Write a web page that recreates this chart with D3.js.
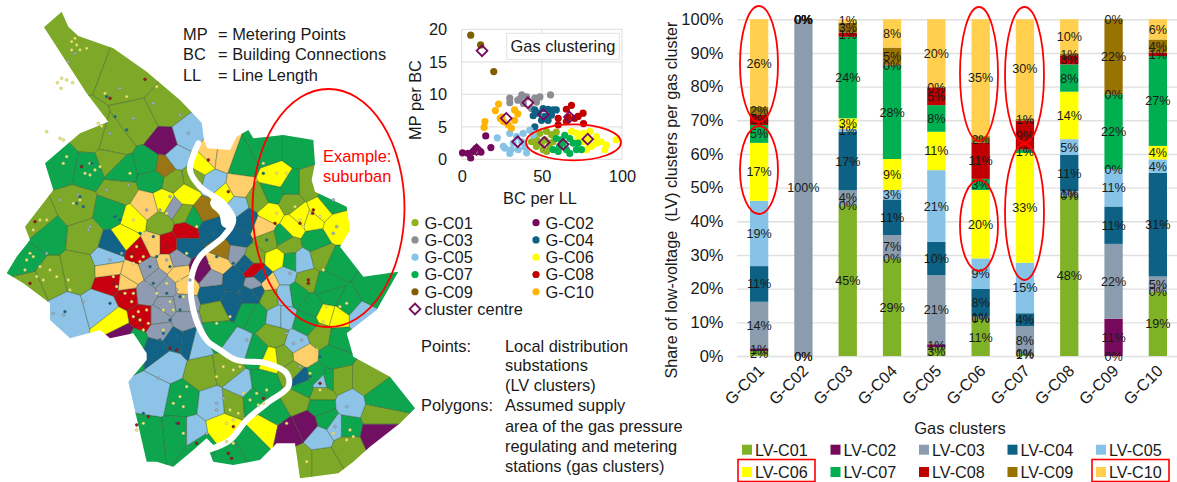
<!DOCTYPE html>
<html>
<head>
<meta charset="utf-8">
<script src="https://cdnjs.cloudflare.com/ajax/libs/d3/7.8.5/d3.min.js"></script>
<style>
  html, body { margin: 0; background: #fff; }
  svg { display: block; }
  text { font-family: "Liberation Sans", Arial, sans-serif; fill: #1a1a1a; }
</style>
</head>
<body>
<div id="chart"></div>
<script>
// ---- stacked bars: share of LV clusters per gas cluster
const gasClusters = ["G-C01", "G-C02", "G-C03", "G-C04", "G-C05", "G-C06", "G-C07", "G-C08", "G-C09", "G-C10"];
const lvClusters = ["LV-C01", "LV-C02", "LV-C03", "LV-C04", "LV-C05", "LV-C06", "LV-C07", "LV-C08", "LV-C09", "LV-C10"];
const lvC01 = [1.5, 0, 44.8, 28.9, 2.6, 11.0, 0.6, 47.6, 0, 19.1];
const lvC02 = [0.8, 0, 0, 0, 0.9, 0, 0, 0, 11.1, 0];
const lvC03 = [13.8, 100, 4.4, 7.0, 20.5, 0.7, 8.3, 1.4, 22.2, 4.5];
const lvC04 = [10.6, 0, 17.4, 10.6, 9.9, 8.2, 3.8, 10.7, 11.1, 30.8];
const lvC05 = [19.4, 0, 0.8, 2.8, 21.3, 9.1, 15.0, 4.7, 11.1, 4.0];
const lvC06 = [17.2, 0, 3.2, 9.2, 11.4, 20.3, 32.6, 14.1, 0, 4.0];
const lvC07 = [5.3, 0, 24.2, 27.8, 7.9, 3.3, 1.0, 8.1, 22.2, 26.7];
const lvC08 = [3.0, 0, 1.2, 0.2, 5.3, 10.8, 8.6, 2.7, 0, 1.0];
const lvC09 = [2.4, 0, 3.0, 5.1, 0, 1.9, 0.6, 0.6, 22.3, 3.9];
const lvC10 = [26.0, 0, 1.0, 8.4, 20.2, 34.7, 29.5, 10.1, 0, 6.0];
const lvSeries = [lvC01, lvC02, lvC03, lvC04, lvC05, lvC06, lvC07, lvC08, lvC09, lvC10];
const lvColors = ["#7fb226", "#76095c", "#8a9cad", "#0c6185", "#87c3e6", "#ffff00", "#00b050", "#c00000", "#997300", "#ffcf4d"];

// ---- scatter: [BC per LL, MP per BC]
const scatterNames = ["G-C01", "G-C02", "G-C03", "G-C04", "G-C05", "G-C06", "G-C07", "G-C08", "G-C09", "G-C10"];
const scatterColors = ["#8fb21e", "#76095c", "#8c8c94", "#0c6185", "#87c3e6", "#ffff00", "#00b050", "#c00000", "#7f6000", "#ffb400"];
const gC01 = [[45.6, 3.2], [48.7, 4], [52.9, 4.3], [56, 3.8], [46.6, 2], [50.8, 1.5], [55, 1.7], [57, 2.7], [43.5, 2.7], [51.9, 3], [59, 4.2], [49.8, 2.5], [54.9, 2.5], [47, 2.9], [53, 1.2]];
const gC02 = [[0.5, 1], [4, 0.9], [5.6, 0.2], [9, 1.7], [12, 1.1], [15, 3.6], [18.2, 1.8], [7.2, 1.2]];
const gC03 = [[30, 9.4], [30, 8.7], [35, 9.1], [37.5, 9.9], [40.5, 9.6], [45.6, 9.4], [48.8, 9.6], [55.4, 9.9], [38.5, 8.6], [43.6, 7.8], [46.7, 8.8], [36.3, 9.3]];
const gC04 = [[45.6, 7.6], [44.6, 6.7], [47.7, 7.1], [50.8, 7.8], [53.9, 7.7], [57, 7.6], [59, 7.6], [51.9, 6.6], [56, 6.8], [49.8, 6], [45.6, 5], [53.9, 6]];
const gC05 = [[22.2, 3.3], [27, 1.7], [30, 0.9], [30, 4], [34.3, 3.5], [38.4, 4], [42.5, 4.5], [39.4, 1.9], [40.5, 1], [32.2, 2.5], [35.3, 1.5], [37.4, 2.7], [44.6, 3.7], [26, 2], [31, 1.5]];
const gC06 = [[68.5, 4.3], [71.6, 4], [75.7, 4], [79.9, 4.3], [84, 3.5], [87, 2.7], [90.3, 2.2], [89.2, 1.5], [77.8, 1.5], [79.9, 2.2], [81, 2], [96.4, 3], [72.6, 3.2], [75.7, 2.7], [84, 2.5], [78.8, 3.2]];
const gC07 = [[59, 3.2], [61, 1.9], [64.3, 3.7], [67.4, 3.2], [69.5, 2.5], [71.6, 1.5], [74.7, 1.5], [65.3, 1.5], [60.2, 1.2], [57, 1.5], [63.3, 2.5], [72.6, 2.5], [67.4, 0.9], [62.2, 3]];
const gC08 = [[65.3, 7.7], [68.5, 8.3], [60.2, 6.3], [66.4, 6.5], [72.6, 6.6], [75.7, 7.1], [60.2, 5.3], [76, 5.5], [65.3, 5.8], [70.5, 6.3]];
const gC09 = [[5.6, 19.1], [11.8, 17.6], [20, 13.5]];
const gC10 = [[23, 8.5], [21, 7.5], [14.5, 5.8], [14, 4.9], [24, 6.3], [26, 5.8], [31, 4.8], [33, 7.6], [35, 7], [33, 6], [29, 5.3], [25, 6.5]];
const scatterSeries = [gC01, gC02, gC03, gC04, gC05, gC06, gC07, gC08, gC09, gC10];
const clusterCentres = [[12.7, 16.7], [9.3, 1.5], [27.8, 6.3], [34.9, 2.7], [41.3, 8.7], [51, 6.9], [51.5, 2.6], [63.3, 2.3], [67.2, 6.5], [78.6, 3.1]];

// ---- map, in map units (1 unit = 1/3 px)
const mapOutline = [[132, 82], [185, 35], [205, 80], [235, 108], [340, 145], [440, 215], [540, 300], [605, 368], [612, 420], [622, 445], [690, 450], [710, 410], [745, 390], [760, 415], [850, 405], [940, 420], [945, 490], [935, 540], [945, 575], [1040, 620], [1050, 690], [1020, 740], [1090, 830], [1195, 815], [1130, 930], [1040, 1000], [1060, 1070], [1170, 1130], [1245, 1225], [1200, 1270], [1110, 1340], [1060, 1385], [1015, 1420], [900, 1435], [885, 1330], [830, 1330], [780, 1380], [700, 1395], [640, 1385], [628, 1355], [640, 1335], [620, 1315], [580, 1350], [520, 1400], [470, 1385], [440, 1385], [385, 1145], [440, 1080], [440, 1060], [400, 1000], [330, 1015], [300, 990], [210, 1015], [150, 960], [150, 910], [70, 850], [20, 820], [50, 770], [90, 720], [75, 680], [160, 570], [135, 490], [240, 400], [325, 365], [260, 280]];
const riverLine = [[595, 430], [570, 510], [600, 560], [670, 610], [700, 660], [670, 710], [600, 770], [575, 830], [580, 930], [620, 1020], [660, 1050], [710, 1080], [800, 1090], [860, 1120], [865, 1160], [800, 1210], [740, 1260], [690, 1320], [625, 1350]];
const riverBulge = [[650, 610], [675, 635], [682, 665]];
const seedsOlive = [[230, 170], [390, 230], [500, 330], [270, 410], [340, 430], [330, 480], [420, 370], [230, 620], [360, 570], [260, 710], [115, 670], [240, 810], [140, 830], [95, 850], [580, 535], [520, 545], [550, 640], [480, 670], [650, 930], [825, 1010], [850, 1070], [960, 1005], [610, 1120], [680, 1110], [700, 1205], [1100, 1140], [880, 1115], [1015, 1140], [965, 1180], [1130, 1245], [970, 1380], [900, 1380], [1040, 1340], [890, 1200], [805, 720], [865, 735], [965, 770], [920, 840], [810, 890], [925, 560], [775, 600], [870, 605], [760, 775]];
const seedsGreen = [[190, 490], [265, 505], [450, 495], [365, 515], [140, 700], [335, 640], [80, 785], [400, 1025], [395, 1050], [725, 490], [800, 450], [890, 450], [870, 560], [820, 580], [990, 605], [945, 720], [850, 710], [870, 785], [1010, 790], [1120, 870], [980, 855], [890, 880], [940, 920], [1040, 915], [990, 890], [920, 970], [760, 940], [750, 935], [655, 1000], [790, 1150], [760, 1200], [550, 1200], [545, 1300], [600, 1340], [435, 1310], [690, 1365], [750, 1330], [820, 1240], [910, 1160], [950, 1130], [985, 1140], [965, 1220], [980, 1260], [1040, 1280], [1140, 1195], [1000, 1070], [1020, 1015], [775, 1060], [460, 535], [580, 655]];
const seedsBlue = [[200, 950], [310, 920], [455, 1180], [500, 1090], [325, 775], [575, 1300], [640, 1210], [720, 1160], [710, 1040], [840, 950], [890, 1030], [855, 825], [855, 885], [905, 785], [710, 620], [560, 410], [530, 470], [1080, 950], [845, 950], [960, 1310], [1008, 1280], [1050, 1215], [965, 1145], [590, 1025], [640, 550]];
const seedsTeal = [[740, 660], [710, 720], [630, 685], [560, 735], [340, 735], [745, 790], [700, 840], [785, 830], [640, 880], [690, 910], [750, 885], [520, 1015], [470, 1050], [900, 1135], [770, 870], [570, 1020]];
const seedsGray = [[450, 805], [435, 880], [500, 860], [500, 920], [550, 910], [480, 950], [485, 990], [550, 960], [520, 620], [635, 835], [705, 755], [765, 855], [470, 830], [530, 780]];
const seedsRed = [[420, 755], [500, 735], [560, 695], [335, 845], [385, 885], [425, 950], [760, 805]];
const seedsYellow = [[400, 660], [375, 710], [495, 605], [555, 585], [605, 490], [345, 965], [830, 780], [1010, 680], [810, 640], [880, 680], [905, 650], [935, 660], [960, 630], [830, 535], [980, 940], [1015, 950], [670, 1285], [795, 1285], [810, 1075], [670, 585]];
const seedsOrange = [[440, 620], [395, 825], [380, 850], [330, 808], [460, 735], [500, 790], [535, 820], [555, 855], [655, 790], [630, 465], [670, 470], [790, 680], [910, 1065], [715, 560], [805, 850]];
const seedsPurple = [[495, 430], [865, 1300], [920, 1275], [1130, 1300], [605, 810], [365, 1005]];
const seedsBrown = [[490, 500], [670, 750], [615, 635]];
const mapSeeds = [seedsOlive, seedsGreen, seedsBlue, seedsTeal, seedsGray, seedsRed, seedsYellow, seedsOrange, seedsPurple, seedsBrown];
const mapSeedColors = ["#7ea827", "#0ea54f", "#8dc3e6", "#126287", "#8f9bb0", "#c80010", "#ffff00", "#ffcf6b", "#710f63", "#9b7416"];

const dotsYellow = [[215, 125], [230, 135], [240, 150], [215, 150], [260, 145], [225, 115], [185, 235], [200, 240], [172, 248], [218, 248], [183, 265], [295, 370], [305, 378], [190, 420], [140, 395], [180, 415], [315, 280], [380, 290], [470, 260], [200, 470], [190, 490], [270, 490], [285, 510], [255, 520], [300, 500], [270, 525], [390, 520], [120, 660], [100, 690], [140, 660], [80, 780], [100, 770], [75, 810], [120, 800], [150, 810], [170, 830], [110, 830], [205, 840], [210, 870], [90, 760], [130, 840], [240, 600], [220, 610], [410, 740], [430, 770], [400, 790], [440, 730], [420, 785], [395, 770], [350, 860], [400, 880], [340, 830], [375, 880], [395, 905], [420, 960], [440, 930], [400, 950], [430, 990], [415, 935], [445, 970], [470, 880], [500, 850], [520, 930], [490, 990], [550, 890], [510, 905], [490, 930], [540, 840], [560, 760], [630, 790], [690, 950], [650, 970], [700, 1110], [670, 1100], [650, 1130], [720, 1100], [540, 1190], [560, 1160], [520, 1210], [550, 1220], [430, 1270], [410, 1290], [550, 1300], [690, 1230], [700, 1260], [680, 1270], [715, 1240], [770, 1180], [790, 1210], [750, 1200], [730, 1180], [800, 1170], [775, 1215], [700, 1330], [830, 520], [860, 520], [790, 490], [900, 660], [930, 640], [960, 650], [885, 620], [910, 680], [830, 640], [970, 810], [1020, 920], [1040, 910], [980, 920], [970, 965], [930, 1120], [950, 1050], [960, 1170], [1000, 1300], [1040, 1320], [1060, 1310], [920, 1385], [1050, 1290], [400, 660], [430, 700], [500, 640], [590, 680], [860, 1270], [680, 1325]];
const dotsGray = [[205, 185], [225, 160], [360, 265], [460, 310], [400, 355], [540, 345], [330, 400], [180, 600], [235, 585], [265, 690], [320, 570], [385, 555], [140, 760], [160, 940], [190, 945], [250, 905], [480, 630], [510, 590], [440, 850], [480, 910], [530, 870], [570, 840], [460, 800], [500, 780], [740, 1020], [860, 1000], [880, 1030], [650, 1210], [475, 1135], [1000, 600], [1010, 680], [870, 820], [1040, 1220], [1005, 1280], [565, 400], [620, 1300], [900, 1100], [320, 570], [270, 680], [440, 630], [1000, 700], [905, 1020], [650, 1230], [670, 1195], [365, 760], [330, 780]];
const dotsTeal = [[320, 290], [345, 350], [380, 390], [230, 610], [250, 620], [240, 590], [275, 490], [460, 850], [510, 960], [490, 1000], [530, 1010], [500, 880], [540, 930], [480, 1020], [195, 935], [345, 650], [360, 660], [790, 520], [800, 720], [650, 770], [700, 790], [760, 880], [930, 1130], [960, 1070], [530, 1270], [430, 1240], [330, 910], [640, 700], [720, 880], [450, 800], [470, 770], [420, 700], [460, 710], [510, 800], [540, 890]];
const dotsRed = [[435, 238], [330, 295], [105, 665], [90, 850], [245, 500], [395, 760], [420, 740], [340, 850], [360, 880], [410, 955], [425, 975], [500, 740], [510, 1045], [530, 1050], [625, 480], [685, 575], [940, 630], [938, 640], [900, 670], [825, 670], [925, 840], [925, 850], [700, 1280], [790, 1195], [590, 1330], [685, 1360], [695, 1375], [445, 1250], [535, 1270], [960, 1150], [410, 1275]];

const svg = d3.select("#chart").append("svg").attr("width", 1177).attr("height", 482);
const fontSize = 16.4;

addMap();
addMapNotes();
addScatter();
addScatterLegend();
addBars();
addBarLegend();
addHighlights();

function addMap() {
  const mx = d3.scaleLinear().domain([0, 1260]).range([0, 420]);
  const my = d3.scaleLinear().domain([0, 1446]).range([0, 482]);
  const line = d3.line().x(d => mx(d[0])).y(d => my(d[1]));

  svg.append("clipPath").attr("id", "map-clip")
    .append("path").attr("d", line(mapOutline) + "Z");

  const seeds = mapSeeds.flatMap((list, i) => list.map(p => ({ p: p, color: mapSeedColors[i] })));
  const delaunay = d3.Delaunay.from(seeds, d => mx(d.p[0]), d => my(d.p[1]));
  const voronoi = delaunay.voronoi([0, 0, 420, 482]);

  svg.append("g").attr("clip-path", "url(#map-clip)")
    .selectAll("path").data(seeds).enter().append("path")
    .attr("d", (d, i) => voronoi.renderCell(i))
    .attr("fill", d => d.color)
    .attr("stroke", "#2f4f2a")
    .attr("stroke-opacity", 0.75)
    .attr("stroke-width", 0.5);

  const curve = d3.line().x(d => mx(d[0])).y(d => my(d[1])).curve(d3.curveCatmullRom);
  svg.append("path").attr("d", curve(riverLine))
    .attr("fill", "none").attr("stroke", "#fff").attr("stroke-width", 6).attr("stroke-linecap", "round");
  svg.append("path").attr("d", curve(riverBulge))
    .attr("fill", "none").attr("stroke", "#fff").attr("stroke-width", 13).attr("stroke-linecap", "round");

  const addDots = (dots, fill, stroke) => {
    svg.append("g").selectAll("circle").data(dots).enter().append("circle")
      .attr("cx", d => mx(d[0])).attr("cy", d => my(d[1])).attr("r", 1.4)
      .attr("fill", fill).attr("stroke", stroke).attr("stroke-width", 0.5);
  };
  addDots(dotsGray, "#a8b4bf", "#6d7f88");
  addDots(dotsYellow, "#f6ef6e", "#a7a76a");
  addDots(dotsTeal, "#10627f", "#3f6f7a");
  addDots(dotsRed, "#a01818", "#602020");
}

function addMapNotes() {
  const legendRows = [["MP", "= Metering Points", 40], ["BC", "= Building Connections", 60], ["LL", "= Line Length", 81]];
  const g = svg.append("g").attr("font-size", fontSize);
  legendRows.forEach(r => {
    g.append("text").attr("x", 183).attr("y", r[2]).text(r[0]);
    g.append("text").attr("x", 218).attr("y", r[2]).text(r[1]);
  });
  g.append("text").attr("x", 323).attr("y", 162).style("fill", "#f00").text("Example:");
  g.append("text").attr("x", 323).attr("y", 182).style("fill", "#f00").text("suburban");

  const notes = [["Points:", "Local distribution", 352], ["", "substations", 371], ["", "(LV clusters)", 391], ["Polygons:", "Assumed supply", 411], ["", "area of the gas pressure", 432], ["", "regulating and metering", 452], ["", "stations (gas clusters)", 472]];
  notes.forEach(r => {
    g.append("text").attr("x", 421).attr("y", r[2]).text(r[0]);
    g.append("text").attr("x", 505).attr("y", r[2]).text(r[1]);
  });
}

function addScatter() {
  const x = d3.scaleLinear().domain([0, 100]).range([461.7, 622]);
  const y = d3.scaleLinear().domain([0, 20]).range([159.3, 29.3]);

  const g = svg.append("g");
  g.append("g").attr("stroke", "#e2e2e2").attr("stroke-width", 1.2)
    .call(s => s.selectAll("line.h").data(y.ticks(4)).enter().append("line").attr("class", "h")
      .attr("x1", x(0)).attr("x2", x(100)).attr("y1", d => y(d)).attr("y2", d => y(d)))
    .call(s => s.selectAll("line.v").data([0, 50, 100]).enter().append("line").attr("class", "v")
      .attr("y1", y(0)).attr("y2", y(20)).attr("x1", d => x(d)).attr("x2", d => x(d)));

  const yAxis = d3.axisLeft(y).tickValues([0, 5, 10, 15, 20]).tickSize(0).tickPadding(14.5);
  g.append("g").attr("transform", `translate(${x(0)},0)`).call(yAxis)
    .call(s => s.select(".domain").remove())
    .selectAll("text").attr("font-size", fontSize).attr("font-family", null);
  const xAxis = d3.axisBottom(x).tickValues([0, 50, 100]).tickSize(0).tickPadding(11);
  g.append("g").attr("transform", `translate(0,${y(0)})`).call(xAxis)
    .call(s => s.select(".domain").remove())
    .selectAll("text").attr("font-size", fontSize).attr("font-family", null);

  scatterSeries.forEach((points, i) => {
    g.append("g").selectAll("circle").data(points).enter().append("circle")
      .attr("cx", d => x(d[0])).attr("cy", d => y(d[1])).attr("r", 3.6)
      .attr("fill", scatterColors[i]);
  });

  g.append("g").selectAll("path").data(clusterCentres).enter().append("path")
    .attr("d", d3.symbol(d3.symbolSquare, 58))
    .attr("transform", d => `translate(${x(d[0])},${y(d[1])}) rotate(45)`)
    .attr("fill", "none").attr("stroke", "#76095c").attr("stroke-width", 1.8);

  g.append("rect").attr("x", 506.7).attr("y", 33.3).attr("width", 112.6).attr("height", 26)
    .attr("fill", "#fff").attr("stroke", "#e2e2e2");
  g.append("text").attr("x", 563).attr("y", 52).attr("text-anchor", "middle").attr("font-size", fontSize).text("Gas clustering");
  g.append("text").attr("x", 540).attr("y", 204).attr("text-anchor", "middle").attr("font-size", fontSize).text("BC per LL");
  g.append("text").attr("transform", "translate(421,100) rotate(-90)").attr("text-anchor", "middle").attr("font-size", fontSize).text("MP per BC");
}

function addScatterLegend() {
  const colX = d3.scaleOrdinal().domain([0, 1]).range([415, 536]);
  const rowY = d3.scaleLinear().domain([0, 5]).range([222.7, 309]);
  const g = svg.append("g");
  scatterNames.forEach((name, i) => {
    const col = i % 2, row = Math.floor(i / 2);
    g.append("circle").attr("cx", colX(col)).attr("cy", rowY(row)).attr("r", 3.6).attr("fill", scatterColors[i]);
    g.append("text").attr("x", colX(col) + 9.5).attr("y", rowY(row) + 5.8).attr("font-size", fontSize).text(name);
  });
  g.append("path").attr("d", d3.symbol(d3.symbolSquare, 58))
    .attr("transform", `translate(${colX(0)},${rowY(5)}) rotate(45)`)
    .attr("fill", "none").attr("stroke", "#76095c").attr("stroke-width", 1.8);
  g.append("text").attr("x", colX(0) + 9.5).attr("y", rowY(5) + 5.8).attr("font-size", fontSize).text("cluster centre");
}

function addBars() {
  const x = d3.scaleBand().domain(gasClusters).range([737, 1180]).paddingInner(0.587).paddingOuter(0.293);
  const y = d3.scaleLinear().domain([0, 100]).range([356, 19.3]);
  const rows = gasClusters.map((name, i) => {
    const row = { name: name };
    lvClusters.forEach((lv, s) => { row[lv] = lvSeries[s][i]; });
    return row;
  });
  const stacked = d3.stack().keys(lvClusters)(rows);

  const g = svg.append("g");
  const yAxis = d3.axisLeft(y).tickValues(d3.range(0, 101, 10)).tickFormat(d => d + "%").tickSize(-443).tickPadding(13.5);
  g.append("g").attr("transform", "translate(737,0)").call(yAxis)
    .call(s => s.select(".domain").remove())
    .call(s => s.selectAll(".tick line").attr("stroke", "#e0e0e0").attr("stroke-width", 1.4))
    .selectAll("text").attr("font-size", 16.5).attr("font-family", null);

  const layers = g.selectAll("g.layer").data(stacked).enter().append("g").attr("class", "layer")
    .attr("fill", (d, i) => lvColors[i]);
  layers.selectAll("rect").data(d => d).enter().append("rect")
    .attr("x", d => x(d.data.name))
    .attr("y", d => y(d[1]))
    .attr("width", x.bandwidth())
    .attr("height", d => y(d[0]) - y(d[1]));

  const labels = g.append("g").attr("text-anchor", "middle").attr("font-size", 12.6);
  stacked.forEach(layer => {
    labels.selectAll(null).data(layer).enter().append("text")
      .attr("x", d => x(d.data.name) + x.bandwidth() / 2)
      .attr("y", d => y((d[0] + d[1]) / 2) + 4.5)
      .text(d => Math.round(d[1] - d[0]) + "%");
  });

  gasClusters.forEach(name => {
    g.append("text")
      .attr("transform", `translate(${x(name) + x.bandwidth() / 2 + 6},${372}) rotate(-45)`)
      .attr("text-anchor", "end").attr("font-size", 16.2).text(name);
  });

  g.append("text").attr("x", 960).attr("y", 434).attr("text-anchor", "middle").attr("font-size", 16.5).text("Gas clusters");
  g.append("text").attr("transform", "translate(677,200) rotate(-90)").attr("text-anchor", "middle")
    .attr("font-size", 16.2).attr("xml:space", "preserve").text("Share of low-voltage  (LV) clusters per gas cluster");
}

function addBarLegend() {
  const colX = d3.scaleLinear().domain([0, 4]).range([742, 1096]);
  const rowY = d3.scaleLinear().domain([0, 1]).range([449.7, 472]);
  const g = svg.append("g");
  lvClusters.forEach((name, i) => {
    const col = i % 5, row = Math.floor(i / 5);
    g.append("rect").attr("x", colX(col)).attr("y", rowY(row) - 5).attr("width", 10).attr("height", 10).attr("fill", lvColors[i]);
    g.append("text").attr("x", colX(col) + 13).attr("y", rowY(row) + 6).attr("font-size", 16.2).text(name);
  });
}

function addHighlights() {
  const rings = [[328.5, 208, 76, 119], [573.5, 142.3, 47.5, 18], [759, 64, 19, 58], [759, 170, 19, 44], [979, 74, 19, 67], [979, 225.5, 19, 45.5], [1024.5, 75, 19.5, 68], [1024.5, 212, 19.5, 68]];
  svg.append("g").selectAll("ellipse").data(rings).enter().append("ellipse")
    .attr("cx", d => d[0]).attr("cy", d => d[1]).attr("rx", d => d[2]).attr("ry", d => d[3])
    .attr("fill", "none").attr("stroke", "#f00").attr("stroke-width", 1.8);
  const boxes = [[738, 459.5, 77, 22], [1092, 459.5, 77, 22]];
  svg.append("g").selectAll("rect").data(boxes).enter().append("rect")
    .attr("x", d => d[0]).attr("y", d => d[1]).attr("width", d => d[2]).attr("height", d => d[3])
    .attr("fill", "none").attr("stroke", "#f00").attr("stroke-width", 1.6);
}
</script>
</body>
</html>
